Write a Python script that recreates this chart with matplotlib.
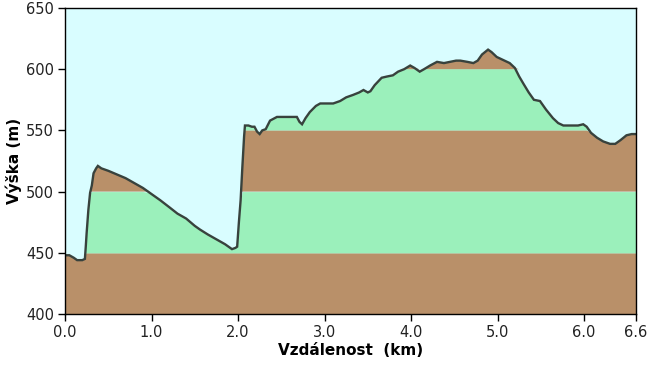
import matplotlib
matplotlib.use("Agg")
import matplotlib.pyplot as plt
import numpy as np

dist = [0.00, 0.05, 0.10, 0.14, 0.20, 0.23, 0.24, 0.25, 0.27, 0.29, 0.31, 0.33, 0.36, 0.38, 0.42,
        0.50, 0.60, 0.70, 0.80, 0.90, 0.98, 1.10, 1.21, 1.30, 1.40, 1.50, 1.56, 1.65, 1.75, 1.85,
        1.91, 1.93, 1.97, 1.99, 2.01, 2.03, 2.05, 2.07, 2.08, 2.12, 2.16, 2.19, 2.22, 2.25, 2.28,
        2.32, 2.37, 2.45, 2.55, 2.62, 2.68, 2.71, 2.74, 2.78, 2.83, 2.90, 2.95, 3.00, 3.10, 3.18,
        3.25, 3.33, 3.40, 3.45, 3.50, 3.53, 3.58, 3.66, 3.72, 3.79, 3.85, 3.92, 3.99, 4.04, 4.10,
        4.15, 4.22, 4.30, 4.38, 4.45, 4.52, 4.57, 4.65, 4.72, 4.77, 4.82, 4.89, 4.93, 4.99, 5.05,
        5.14, 5.20, 5.25, 5.30, 5.36, 5.42, 5.49, 5.56, 5.64, 5.70, 5.76, 5.85, 5.93, 5.99, 6.03,
        6.08, 6.15, 6.22, 6.30, 6.36, 6.42, 6.49, 6.55, 6.60]
elev = [448, 448, 446, 444, 444, 445, 455, 466, 485, 499, 505, 515, 519, 521, 519,
        517, 514, 511, 507, 503, 499, 493, 487, 482, 478, 472, 469, 465, 461, 457,
        454, 453, 454, 455, 475, 493, 520, 545, 554, 554, 553, 553, 549, 547, 550,
        551, 558, 561, 561, 561, 561, 557, 555, 560, 565, 570, 572, 572, 572, 574,
        577, 579, 581, 583, 581, 582, 587, 593, 594, 595, 598, 600, 603, 601, 598,
        600, 603, 606, 605, 606, 607, 607, 606, 605, 607, 612, 616, 614, 610, 608,
        605, 601, 594, 588, 581, 575, 574, 567, 560, 556, 554, 554, 554, 555, 553,
        548, 544, 541, 539, 539, 542, 546, 547, 547]

x_ticks = [0.0, 1.0, 2.0, 3.0, 4.0, 5.0, 6.0, 6.6]
x_tick_labels = ["0.0", "1.0", "2.0", "3.0", "4.0", "5.0", "6.0", "6.6"]
y_ticks = [400, 450, 500, 550, 600, 650]
band_edges = [400, 450, 500, 550, 600, 650]

SKY = "#d9fdff"
BROWN = "#b99069"
GREEN = "#9bf0bb"
LINE = "#38423d"

fig = plt.figure(figsize=(6.48, 3.71), dpi=100)
fig.patch.set_facecolor("white")
ax = fig.add_axes([65/648, 1-314/371, (636-65)/648, (314-8)/371])
ax.set_facecolor(SKY)

x = np.array(dist)
y = np.array(elev, dtype=float)
for i in range(len(band_edges) - 1):
    lo, hi = band_edges[i], band_edges[i+1]
    col = BROWN if i % 2 == 0 else GREEN
    top = np.clip(y, lo, hi)
    ax.fill_between(x, lo, top, where=(y > lo), interpolate=True, color=col, lw=0)

ax.plot(x, y, color=LINE, lw=1.7, solid_joinstyle="miter")

ax.set_xlim(0, 6.6)
ax.set_ylim(400, 650)
ax.set_xticks(x_ticks)
ax.set_xticklabels(x_tick_labels)
ax.set_yticks(y_ticks)
ax.tick_params(direction="out", length=5, width=1, labelsize=10.5, pad=3, colors="black")
for s in ax.spines.values():
    s.set_linewidth(1)
    s.set_color("black")
for lab in ax.get_xticklabels() + ax.get_yticklabels():
    lab.set_family("DejaVu Sans")
    lab.set_color("#222222")

ax.set_xlabel("Vzdálenost  (km)", fontsize=11, fontweight="bold", family="DejaVu Sans", labelpad=2)
ax.set_ylabel("Výška (m)", fontsize=11, fontweight="bold", family="DejaVu Sans", labelpad=3)

fig.savefig("out.png", dpi=100)
